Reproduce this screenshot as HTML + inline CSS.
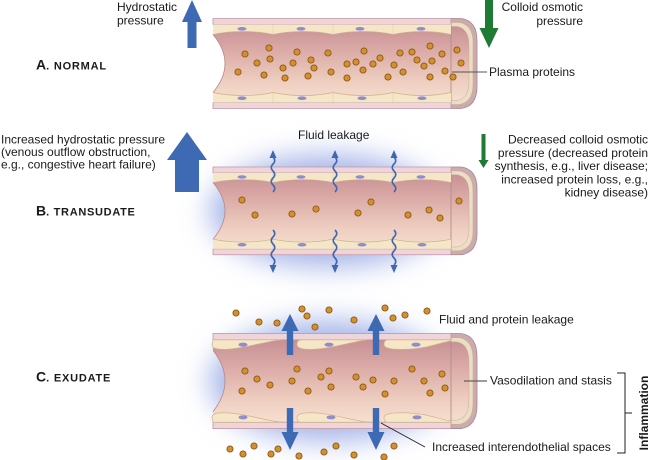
<!DOCTYPE html>
<html>
<head>
<meta charset="utf-8">
<style>
html,body{margin:0;padding:0;background:#fff;}
svg{display:block;}
text{font-family:"Liberation Sans",Arial,sans-serif;fill:#1a1a1a;font-size:12px;}
</style>
</head>
<body>
<svg width="650" height="460" viewBox="0 0 650 460" xmlns="http://www.w3.org/2000/svg">
<defs>
  <linearGradient id="lum" gradientUnits="userSpaceOnUse" x1="0" y1="6" x2="0" y2="84">
    <stop offset="0" stop-color="#c78f94"/>
    <stop offset="0.35" stop-color="#dcaca8"/>
    <stop offset="0.75" stop-color="#efcfc1"/>
    <stop offset="1" stop-color="#f6e0d0"/>
  </linearGradient>
  <filter id="blur" x="-50%" y="-50%" width="200%" height="200%">
    <feGaussianBlur stdDeviation="14"/>
  </filter>
  <circle id="d" cx="0" cy="0" r="3.1" fill="#d4902c" stroke="#8a5818" stroke-width="0.9"/>
  <g id="tube">
    <path d="M451,0 L461,0 Q477,2 477,22 L477,68 Q477,88 461,90 L451,90 Z" fill="#cbabb0" stroke="#a8878e" stroke-width="0.8"/>
    <path d="M451,4 L459,4 Q473,6 473,24 L473,66 Q473,84 459,86 L451,86 Z" fill="#ecdec4" stroke="#c9b190" stroke-width="0.6"/>
    <path d="M451,8 L457,8 Q469,10 469,27 L469,63 Q469,80 457,82 L451,82 Z" fill="url(#lum)" stroke="#c9a8a0" stroke-width="0.5"/>
    <path d="M213,6 L451,6 L451,84 L213,84 L213,74 Q237,45 213,16 Z" fill="url(#lum)"/>
    <path d="M213,16 Q237,45 213,74" fill="none" stroke="#b48a86" stroke-width="0.8"/>
    <line x1="451" y1="0" x2="451" y2="90" stroke="#a98a8e" stroke-width="0.8"/>
    <rect x="213" y="0" width="238" height="6" fill="#efd4da" stroke="#c19aa3" stroke-width="0.8"/>
    <rect x="213" y="84" width="238" height="6" fill="#efd4da" stroke="#c19aa3" stroke-width="0.8"/>
  </g>
  <g id="cellsAB">
    <path fill="#f6e6c8" d="M213,6 L451,6 L451,16 C433,12 411,12 393,16 C375,12 351,12 333,16 C315,12 291,12 273,16 C255,12 231,12 213,16 Z"/>
    <path fill="#f6e6c8" d="M213,84 L451,84 L451,74 C433,78 411,78 393,74 C375,78 351,78 333,74 C315,78 291,78 273,74 C255,78 231,78 213,74 Z"/>
    <path fill="none" stroke="#cdb089" stroke-width="0.7" d="M213,16 C231,12 255,12 273,16 C291,12 315,12 333,16 C351,12 375,12 393,16 C411,12 433,12 451,16"/>
    <path fill="none" stroke="#cdb089" stroke-width="0.7" d="M213,74 C231,78 255,78 273,74 C291,78 315,78 333,74 C351,78 375,78 393,74 C411,78 433,78 451,74"/>
    <path fill="none" stroke="#dcc6a4" stroke-width="0.5" d="M273,6 V16 M333,6 V16 M393,6 V16 M273,84 V74 M333,84 V74 M393,84 V74"/>
  </g>
  <g id="nucAB" fill="#8f8dcd">
    <ellipse cx="242" cy="10.3" rx="4.5" ry="1.8"/>
    <ellipse cx="301" cy="10.3" rx="4.5" ry="1.8"/>
    <ellipse cx="360" cy="10.3" rx="4.5" ry="1.8"/>
    <ellipse cx="421" cy="10.3" rx="4.5" ry="1.8"/>
    <ellipse cx="242" cy="79.7" rx="4.5" ry="1.8"/>
    <ellipse cx="302" cy="79.7" rx="4.5" ry="1.8"/>
    <ellipse cx="362" cy="79.7" rx="4.5" ry="1.8"/>
    <ellipse cx="422" cy="79.7" rx="4.5" ry="1.8"/>
  </g>
</defs>

<!-- ===== A. NORMAL ===== -->
<g transform="translate(0,18.5)">
  <use href="#tube"/>
  <use href="#cellsAB"/>
  <use href="#nucAB"/>
</g>
<g>
  <use href="#d" x="245" y="54"/><use href="#d" x="269" y="48"/><use href="#d" x="257" y="63"/>
  <use href="#d" x="270" y="59"/><use href="#d" x="238" y="72"/><use href="#d" x="264" y="75"/>
  <use href="#d" x="283" y="68"/><use href="#d" x="293" y="63"/><use href="#d" x="297" y="52"/>
  <use href="#d" x="285" y="78"/><use href="#d" x="311" y="60"/><use href="#d" x="314" y="68"/>
  <use href="#d" x="308" y="76"/><use href="#d" x="328" y="53"/><use href="#d" x="331" y="72"/>
  <use href="#d" x="347" y="64"/><use href="#d" x="347" y="78"/><use href="#d" x="356" y="62"/>
  <use href="#d" x="364" y="51"/><use href="#d" x="363" y="70"/><use href="#d" x="373" y="64"/>
  <use href="#d" x="380" y="58"/><use href="#d" x="388" y="77"/><use href="#d" x="394" y="65"/>
  <use href="#d" x="400" y="53"/><use href="#d" x="403" y="72"/><use href="#d" x="412" y="52"/>
  <use href="#d" x="417" y="60"/><use href="#d" x="424" y="66"/><use href="#d" x="430" y="46"/>
  <use href="#d" x="432" y="61"/><use href="#d" x="430" y="77"/><use href="#d" x="442" y="54"/>
  <use href="#d" x="445" y="71"/><use href="#d" x="453" y="77"/><use href="#d" x="457" y="50"/>
  <use href="#d" x="461" y="63"/>
</g>
<polygon points="192,0 202,22 196.5,22 196.5,48 187.5,48 187.5,22 182,22" fill="#3e6ab3"/>
<polygon points="485,0 493,0 493,28 498.5,28 489,48 479.5,28 485,28" fill="#1f7a34"/>
<text x="117" y="11">Hydrostatic</text>
<text x="117" y="24.5">pressure</text>
<text x="583" y="11" text-anchor="end">Colloid osmotic</text>
<text x="583" y="25" text-anchor="end">pressure</text>
<line x1="452" y1="72" x2="487" y2="72" stroke="#555" stroke-width="1"/>
<text x="489" y="76">Plasma proteins</text>
<text x="36" y="69.5" font-weight="bold"><tspan font-size="14">A</tspan><tspan font-size="11" letter-spacing="0.8">. NORMAL</tspan></text>

<!-- ===== B. TRANSUDATE ===== -->
<ellipse cx="328" cy="211" rx="118" ry="56" fill="#a4b3e8" filter="url(#blur)"/>
<g transform="translate(0,167) scale(1,0.975)">
  <use href="#tube"/>
  <use href="#cellsAB"/>
  <use href="#nucAB"/>
</g>
<g>
  <use href="#d" x="242" y="200"/><use href="#d" x="255" y="215"/><use href="#d" x="292" y="214"/>
  <use href="#d" x="316" y="209"/><use href="#d" x="371" y="202"/><use href="#d" x="358" y="213"/>
  <use href="#d" x="408" y="215"/><use href="#d" x="429" y="210"/><use href="#d" x="440" y="218"/>
  <use href="#d" x="459" y="201"/>
</g>
<g fill="none" stroke="#3e68b0" stroke-width="1.6">
  <path d="M273,192 q3.5,-3.5 0,-7 t0,-7 t0,-7 t0,-7 t0,-7"/>
  <path d="M335,192 q3.5,-3.5 0,-7 t0,-7 t0,-7 t0,-7 t0,-7"/>
  <path d="M394,192 q3.5,-3.5 0,-7 t0,-7 t0,-7 t0,-7 t0,-7"/>
  <path d="M273,230 q3.5,3.5 0,7 t0,7 t0,7 t0,7 t0,7"/>
  <path d="M335,230 q3.5,3.5 0,7 t0,7 t0,7 t0,7 t0,7"/>
  <path d="M394,230 q3.5,3.5 0,7 t0,7 t0,7 t0,7 t0,7"/>
</g>
<g fill="#3e68b0">
  <polygon points="273,150 276.5,158 269.5,158"/>
  <polygon points="335,150 338.5,158 331.5,158"/>
  <polygon points="394,150 397.5,158 390.5,158"/>
  <polygon points="273,273 276.5,265 269.5,265"/>
  <polygon points="335,273 338.5,265 331.5,265"/>
  <polygon points="394,273 397.5,265 390.5,265"/>
</g>
<polygon points="187,132 207,160 199,160 199,192 175,192 175,160 167,160" fill="#3e6ab3"/>
<polygon points="481.5,134 485.5,134 485.5,160 488.5,160 483.5,168 478.5,160 481.5,160" fill="#1f7a34"/>
<text x="1" y="143.5">Increased hydrostatic pressure</text>
<text x="1" y="156">(venous outflow obstruction,</text>
<text x="1" y="168.5">e.g., congestive heart failure)</text>
<text x="298" y="139">Fluid leakage</text>
<text x="648" y="143.5" text-anchor="end">Decreased colloid osmotic</text>
<text x="648" y="156.8" text-anchor="end">pressure (decreased protein</text>
<text x="648" y="170" text-anchor="end">synthesis, e.g., liver disease;</text>
<text x="648" y="183.3" text-anchor="end">increased protein loss, e.g.,</text>
<text x="648" y="196.7" text-anchor="end">kidney disease)</text>
<text x="36" y="215.5" font-weight="bold"><tspan font-size="14">B</tspan><tspan font-size="11" letter-spacing="0.7">. TRANSUDATE</tspan></text>

<!-- ===== C. EXUDATE ===== -->
<ellipse cx="330" cy="381" rx="120" ry="60" fill="#a4b3e8" filter="url(#blur)"/>
<g transform="translate(0,333.5) scale(1,1.056)">
  <use href="#tube"/>
  <g fill="#f6e6c8" stroke="#cfb38c" stroke-width="0.7">
    <path d="M213,6 L281,6 C262,8 242,15 224,15 Q212,15 212,11 Z"/>
    <path d="M301,6 L367,6 C350,8 330,15 310,15 Q297,15 297,10.5 Q297,6 301,6 Z"/>
    <path d="M388,6 L451,6 L451,7 C438,9 426,15 402,15 Q384,15 384,10.5 Q384,6 388,6 Z"/>
    <path d="M213,84 L281,84 C262,82 242,75 224,75 Q212,75 212,79 Z"/>
    <path d="M301,84 L367,84 C350,82 330,75 310,75 Q297,75 297,79.5 Q297,84 301,84 Z"/>
    <path d="M388,84 L451,84 L451,83 C438,81 426,75 402,75 Q384,75 384,79.5 Q384,84 388,84 Z"/>
  </g>
  <g fill="#8f8dcd">
    <ellipse cx="243" cy="10.6" rx="4.5" ry="1.9"/>
    <ellipse cx="329" cy="10.6" rx="4.5" ry="1.9"/>
    <ellipse cx="416" cy="10.6" rx="4.5" ry="1.9"/>
    <ellipse cx="243" cy="79.4" rx="4.5" ry="1.9"/>
    <ellipse cx="331" cy="79.4" rx="4.5" ry="1.9"/>
    <ellipse cx="417" cy="79.4" rx="4.5" ry="1.9"/>
  </g>
</g>
<g>
  <use href="#d" x="245" y="371"/><use href="#d" x="257" y="379"/><use href="#d" x="270" y="385"/>
  <use href="#d" x="242" y="391"/><use href="#d" x="297" y="369"/><use href="#d" x="292" y="381"/>
  <use href="#d" x="308" y="391"/><use href="#d" x="321" y="377"/><use href="#d" x="329" y="371"/>
  <use href="#d" x="331" y="387"/><use href="#d" x="356" y="377"/><use href="#d" x="363" y="387"/>
  <use href="#d" x="373" y="380"/><use href="#d" x="385" y="394"/><use href="#d" x="394" y="381"/>
  <use href="#d" x="412" y="369"/><use href="#d" x="424" y="381"/><use href="#d" x="430" y="393"/>
  <use href="#d" x="442" y="374"/><use href="#d" x="445" y="388"/>
  <use href="#d" x="236" y="313"/><use href="#d" x="259" y="322"/><use href="#d" x="277" y="323"/>
  <use href="#d" x="302" y="309"/><use href="#d" x="307" y="316"/><use href="#d" x="315" y="327"/>
  <use href="#d" x="329" y="310"/><use href="#d" x="354" y="320"/><use href="#d" x="385" y="308"/>
  <use href="#d" x="393" y="318"/><use href="#d" x="405" y="315"/><use href="#d" x="427" y="311"/>
  <use href="#d" x="230" y="449"/><use href="#d" x="243" y="454"/><use href="#d" x="254" y="446"/>
  <use href="#d" x="271" y="454"/><use href="#d" x="278" y="449"/><use href="#d" x="299" y="456"/>
  <use href="#d" x="324" y="452"/><use href="#d" x="336" y="446"/><use href="#d" x="354" y="455"/>
  <use href="#d" x="384" y="457"/><use href="#d" x="394" y="446"/>
</g>
<g fill="#3e6ab3">
  <polygon points="290,314 298.5,331 293.2,331 293.2,355 286.8,355 286.8,331 281.5,331"/>
  <polygon points="376,314 384.5,331 379.2,331 379.2,355 372.8,355 372.8,331 367.5,331"/>
  <polygon points="286.8,408 293.2,408 293.2,432 298.5,432 290,450 281.5,432 286.8,432"/>
  <polygon points="372.8,408 379.2,408 379.2,432 384.5,432 376,450 367.5,432 372.8,432"/>
</g>
<text x="439" y="323.5">Fluid and protein leakage</text>
<line x1="464" y1="381" x2="487" y2="381" stroke="#6b5b5b" stroke-width="1.2"/>
<text x="490" y="384.5">Vasodilation and stasis</text>
<line x1="381" y1="423" x2="425" y2="447" stroke="#222" stroke-width="0.9"/>
<text x="432" y="451">Increased interendothelial spaces</text>
<path d="M617,373 H625 V453 H617 M625,413 H632" fill="none" stroke="#222" stroke-width="1"/>
<text transform="translate(648,413) rotate(-90)" text-anchor="middle" font-weight="bold" font-size="12">Inflammation</text>
<text x="36" y="381.5" font-weight="bold"><tspan font-size="14">C</tspan><tspan font-size="11" letter-spacing="0.8">. EXUDATE</tspan></text>
</svg>
</body>
</html>
